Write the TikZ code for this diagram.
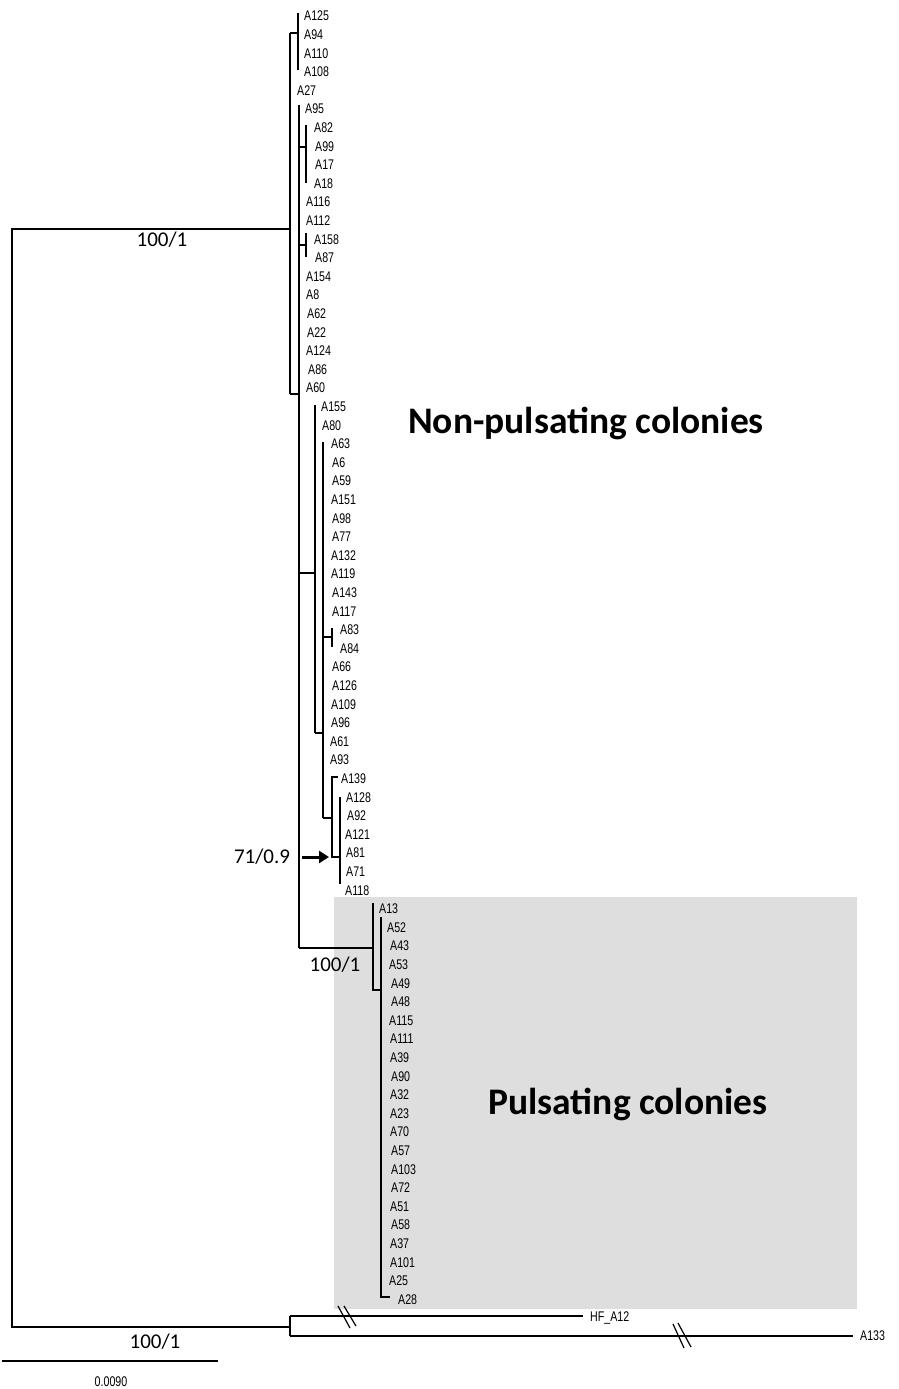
\documentclass[tikz,border=0pt]{standalone}
\usepackage{fontspec}
\setmainfont{Liberation Sans}
\newfontfamily\tipfont{Liberation Sans}[FakeStretch=0.76]
\newfontfamily\calfont{Carlito}
\usetikzlibrary{arrows.meta}
\definecolor{boxgray}{RGB}{222,222,222}
\begin{document}
\begin{tikzpicture}[x=1pt,y=-1pt,
  branch/.style={line width=1.4pt},
  brk/.style={line width=1.2pt},
  tip/.style={anchor=west,inner sep=0pt,font=\tipfont\fontsize{14}{15}\selectfont},
  support/.style={inner sep=0pt,font=\calfont\fontsize{21}{24}\selectfont},
  clade/.style={inner sep=0pt,font=\calfont\bfseries\fontsize{37.5}{42}\selectfont}]
\useasboundingbox (0,0) rectangle (898,1389);
\fill[boxgray] (334,897) rectangle (857,1309);

% tip labels
\foreach \n/\x/\i in {A125/304/0,A94/304/1,A110/304/2,A108/304/3,A27/297/4,A95/305/5,
  A82/314/6,A99/315/7,A17/315/8,A18/314/9,A116/306/10,A112/306/11,A158/314/12,A87/315/13,
  A154/306/14,A8/306/15,A62/307/16,A22/307/17,A124/306/18,A86/308/19,A60/306/20,
  A155/321/21,A80/322/22,A63/331/23,A6/332/24,A59/332/25,A151/331/26,A98/332/27,A77/332/28,
  A132/331/29,A119/331/30,A143/332/31,A117/332/32,A83/340/33,A84/340/34,A66/332/35,
  A126/332/36,A109/331/37,A96/331/38,A61/330/39,A93/330/40,A139/341/41,A128/346/42,
  A92/347/43,A121/345/44,A81/346/45,A71/346/46,A118/345/47,A13/379/48,A52/387/49,
  A43/390/50,A53/389/51,A49/391/52,A48/391/53,A115/389/54,A111/390/55,A39/390/56,
  A90/391/57,A32/390/58,A23/390/59,A70/390/60,A57/391/61,A103/391/62,A72/391/63,
  A51/390/64,A58/391/65,A37/390/66,A101/390/67,A25/389/68,A28/398/69}
  \node[tip] (\n) at (\x,{16+18.6*\i}) {\n};

% tree coordinates
\coordinate (R1) at (12,229);   \coordinate (R2) at (12,1327);
\coordinate (I1) at (290,229);
\coordinate (V1t) at (290,33);  \coordinate (V1b) at (290,394);
\coordinate (G1) at (298,33);   \coordinate (G1t) at (298,13);  \coordinate (G1b) at (298,70);
\coordinate (V2t) at (299,105); \coordinate (V2a) at (299,394); \coordinate (V2b) at (299,948);
\coordinate (C1) at (299,147);  \coordinate (C1n) at (306,147);
\coordinate (C1t) at (306,125); \coordinate (C1b) at (306,183);
\coordinate (C2) at (299,245);  \coordinate (C2n) at (306,245);
\coordinate (C2t) at (306,233); \coordinate (C2b) at (306,257);
\coordinate (C3) at (299,573);  \coordinate (C3n) at (315,573);
\coordinate (C3t) at (315,405); \coordinate (C3b) at (315,733);
\coordinate (C4) at (323,733);  \coordinate (C4t) at (323,442); \coordinate (C4b) at (323,818);
\coordinate (C5) at (323,637);  \coordinate (C5n) at (332,637);
\coordinate (C5t) at (332,628); \coordinate (C5b) at (332,647);
\coordinate (C6) at (332,818);  \coordinate (C6t) at (332,777); \coordinate (C6b) at (332,857);
\coordinate (C6e) at (338,777);
\coordinate (C7) at (340,857);  \coordinate (C7t) at (340,797); \coordinate (C7b) at (340,884);
\coordinate (P0) at (373,948);  \coordinate (P0t) at (373,903); \coordinate (P0b) at (373,990);
\coordinate (P1) at (381,990);  \coordinate (P1t) at (381,917); \coordinate (P1b) at (381,1297);
\coordinate (P1e) at (390,1297);
\coordinate (O1) at (290,1327); \coordinate (O1t) at (290,1316); \coordinate (O1b) at (290,1336);
\coordinate (HFe) at (583,1316); \coordinate (A133e) at (853,1336);

% branches
\draw[branch] (I1) -- (R1) -- (R2) -- (O1);
\draw[branch] (V1t) -- (V1b);
\draw[branch] (V1t) -- (G1);
\draw[branch] (G1t) -- (G1b);
\draw[branch] (V1b) -- (V2a);
\draw[branch] (V2t) -- (V2b);
\draw[branch] (C1) -- (C1n);  \draw[branch] (C1t) -- (C1b);
\draw[branch] (C2) -- (C2n);  \draw[branch] (C2t) -- (C2b);
\draw[branch] (C3) -- (C3n);  \draw[branch] (C3t) -- (C3b);
\draw[branch] (C3b) -- (C4);  \draw[branch] (C4t) -- (C4b);
\draw[branch] (C5) -- (C5n);  \draw[branch] (C5t) -- (C5b);
\draw[branch] (C4b) -- (C6);  \draw[branch] (C6e) -- (C6t) -- (C6b) -- (C7);
\draw[branch] (C7t) -- (C7b);
\draw[branch] (V2b) -- (P0);  \draw[branch] (P0t) -- (P0b) -- (P1);
\draw[branch] (P1t) -- (P1b) -- (P1e);
\draw[branch] (O1t) -- (O1b);
\draw[branch] (O1t) -- (HFe);
\draw[branch] (O1b) -- (A133e);

% break marks
\coordinate (b1a) at (338,1306); \coordinate (b1b) at (350,1328);
\coordinate (b2a) at (344,1306); \coordinate (b2b) at (356,1326);
\coordinate (b3a) at (673,1324); \coordinate (b3b) at (684,1348);
\coordinate (b4a) at (678,1323); \coordinate (b4b) at (691,1347);
\draw[brk] (b1a) -- (b1b); \draw[brk] (b2a) -- (b2b);
\draw[brk] (b3a) -- (b3b); \draw[brk] (b4a) -- (b4b);

\node[tip] (HF_A12) at (590,1318) {HF\_A12};
\node[tip] (A133) at (860,1336) {A133};

% support values
\node[support] (s1) at (162,240) {100/1};
\node[support] (s2) at (262,857) {71/0.9};
\node[support] (s3) at (335,965) {100/1};
\node[support] (s4) at (155,1342) {100/1};
\coordinate (arrS) at (302,857); \coordinate (arrE) at (329,857);
\draw[line width=3pt,-{Triangle[length=10pt,width=12pt]}] (arrS) -- (arrE);

% clade labels
\node[clade] (np) at (586,423) {Non-pulsating colonies};
\node[clade] (pc) at (628,1104) {Pulsating colonies};

% scale bar
\coordinate (sb1) at (2,1361); \coordinate (sb2) at (218,1361);
\draw[line width=1.3pt] (sb1) -- (sb2);
\node[tip,anchor=center] (scale) at (111,1382) {0.0090};
\end{tikzpicture}
\end{document}
